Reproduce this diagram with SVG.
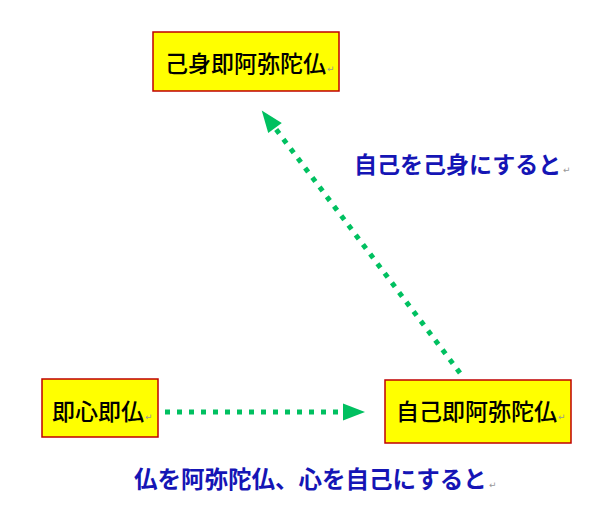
<svg xmlns="http://www.w3.org/2000/svg" width="601" height="522" viewBox="0 0 601 522">
<style>
.box{fill:#ffff00;stroke:#c00000;stroke-width:1.5}
.bt{font-family:"Noto Sans CJK JP","Noto Sans CJK SC",sans-serif;font-size:23px;fill:#000;font-weight:500}
.lb{font-family:"Noto Sans CJK JP","Noto Sans CJK SC",sans-serif;font-size:23px;fill:#1515b5;font-weight:bold}
.rm{font-family:"DejaVu Sans",sans-serif;font-size:9px;fill:#999}
.con{fill:none;stroke:#00c060;stroke-width:5;stroke-dasharray:5 7}
</style>
<defs>
<marker id="ah" markerUnits="userSpaceOnUse" markerWidth="24" markerHeight="19" refX="0" refY="8.5" orient="auto" overflow="visible">
<path d="M0,0 L22,8.5 L0,17 z" fill="#00c060"/>
</marker>
</defs>
<rect width="601" height="522" fill="#fff"/>
<g id="connectors">
<line class="con" x1="165" y1="412" x2="343" y2="412" marker-end="url(#ah)"/>
<line class="con" x1="460" y1="373" x2="275" y2="128" marker-end="url(#ah)"/>
</g>
<g id="node-top">
<rect class="box" x="153" y="32" width="186" height="59"/>
<text class="bt" x="165" y="72">己身即阿弥陀仏</text>
<text class="rm" x="327" y="72">↵</text>
</g>
<g id="node-left">
<rect class="box" x="42" y="379" width="116" height="58"/>
<text class="bt" x="52" y="420">即心即仏</text>
<text class="rm" x="145" y="420">↵</text>
</g>
<g id="node-right">
<rect class="box" x="385" y="380" width="186" height="63"/>
<text class="bt" x="396" y="420">自己即阿弥陀仏</text>
<text class="rm" x="558" y="420">↵</text>
</g>
<g id="label-top">
<text class="lb" x="354" y="173">自己を己身にすると</text>
<text class="rm" x="563" y="173">↵</text>
</g>
<g id="label-bottom">
<text class="lb" x="134" y="488" style="font-size:23.5px">仏を阿弥陀仏、心を自己にすると</text>
<text class="rm" x="489" y="488">↵</text>
</g>
</svg>
